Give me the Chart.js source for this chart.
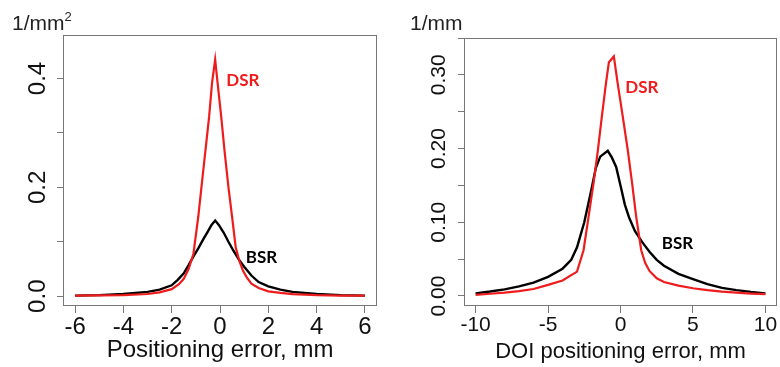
<!DOCTYPE html>
<html>
<head>
<meta charset="utf-8">
<script src="https://cdn.jsdelivr.net/npm/chart.js@4.4.1/dist/chart.umd.min.js"></script>
<style>
  html, body { margin: 0; padding: 0; background: #fff; }
  #wrap { position: relative; width: 780px; height: 367px; overflow: hidden; }
  .panel { position: absolute; top: 0; width: 390px; height: 367px; }
  .unit { position: absolute; top: 12px; font-family: "Liberation Sans", Arial, sans-serif; font-size: 21px; line-height: 21px; color: #222; }
  .unit span { font-size: 13px; position: relative; top: -9px; }
</style>
</head>
<body>
<div id="wrap">
  <div class="panel" style="left:0"><canvas id="posChart" width="390" height="367"></canvas></div>
  <div class="panel" style="left:390px"><canvas id="doiChart" width="390" height="367"></canvas></div>
  <div class="unit" style="left:12px">1/mm<span>2</span></div>
  <div class="unit" style="left:410px">1/mm</div>
</div>
<script>
// left panel: positioning error
const posDsrX = [-6, -5, -4, -3, -2.5, -2, -1.7, -1.5, -1.3, -1.1, -0.9, -0.75, -0.6, -0.45, -0.33, -0.2, -0.1, 0.05, 0.2, 0.35, 0.5, 0.65, 0.8, 0.95, 1.1, 1.3, 1.6, 2, 2.5, 3, 4, 5, 6];
const posDsrY = [0.001, 0.0015, 0.002, 0.004, 0.007, 0.013, 0.022, 0.032, 0.05, 0.078, 0.146, 0.208, 0.269, 0.33, 0.392, 0.435, 0.392, 0.33, 0.262, 0.2, 0.146, 0.09, 0.065, 0.047, 0.035, 0.023, 0.015, 0.009, 0.006, 0.004, 0.002, 0.0012, 0.001];
const posBsrX = [-6, -5, -4, -3, -2.5, -2, -1.75, -1.5, -1.3, -1.1, -0.9, -0.7, -0.5, -0.35, -0.2, -0.05, 0.15, 0.35, 0.55, 0.8, 1, 1.3, 1.6, 2, 2.5, 3, 4, 5, 6];
const posBsrY = [0.001, 0.002, 0.004, 0.008, 0.012, 0.02, 0.03, 0.042, 0.057, 0.073, 0.088, 0.104, 0.119, 0.131, 0.139, 0.131, 0.117, 0.1, 0.084, 0.066, 0.054, 0.038, 0.026, 0.018, 0.012, 0.008, 0.004, 0.002, 0.001];
const posXTicks = [-6, -4, -2, 0, 2, 4, 6];
const posYTicks = [0, 0.1, 0.2, 0.3, 0.4];
const posYLabels = ['0.0', '', '0.2', '', '0.4'];

// right panel: DOI positioning error
const doiDsrX = [-10, -9, -8, -7, -6, -5, -4, -3, -2.55, -2.2, -1.86, -1.56, -1.29, -1, -0.8, -0.46, -0.2, 0.16, 0.5, 0.8, 1.08, 1.43, 1.7, 2, 2.5, 3, 4, 5, 6, 7, 8, 9, 10];
const doiDsrY = [0.0014, 0.003, 0.0045, 0.0065, 0.0095, 0.015, 0.021, 0.033, 0.062, 0.108, 0.153, 0.198, 0.243, 0.289, 0.317, 0.325, 0.289, 0.243, 0.198, 0.153, 0.108, 0.062, 0.045, 0.034, 0.024, 0.019, 0.014, 0.0105, 0.008, 0.006, 0.0045, 0.0033, 0.0025];
const doiBsrX = [-10, -9, -8, -7, -6, -5, -4, -3.4, -3, -2.5, -2, -1.7, -1.4, -0.88, -0.6, -0.3, 0, 0.3, 0.6, 1, 1.5, 2, 2.5, 3, 4, 5, 6, 7, 8, 9, 10];
const doiBsrY = [0.0036, 0.006, 0.009, 0.013, 0.018, 0.026, 0.037, 0.049, 0.066, 0.1, 0.145, 0.174, 0.189, 0.197, 0.188, 0.175, 0.15, 0.124, 0.106, 0.088, 0.073, 0.06, 0.049, 0.041, 0.03, 0.023, 0.016, 0.011, 0.008, 0.0055, 0.0036];
const doiXTicks = [-10, -5, 0, 5, 10];
const doiYTicks = [0, 0.05, 0.1, 0.15, 0.2, 0.25, 0.3, 0.35];
const doiYLabels = ['0.00', '', '0.10', '', '0.20', '', '0.30', ''];

const RED = '#ee1c1c';
const AXIS = '#777';
const TICK_FONT = '"Liberation Sans", Arial, sans-serif';

const toPoints = (xs, ys) => xs.map((x, i) => ({ x, y: ys[i] }));

const framePlugin = {
  id: 'frame',
  beforeDatasetsDraw(chart) {
    const { ctx, chartArea: a } = chart;
    ctx.save();
    ctx.strokeStyle = AXIS;
    ctx.lineWidth = 1;
    ctx.strokeRect(a.left + 0.5, a.top + 0.5, a.right - a.left - 1, a.bottom - a.top - 1);
    ctx.restore();
  }
};

const curveLabels = {
  id: 'curveLabels',
  afterDatasetsDraw(chart, args, opts) {
    const { ctx, scales: { x, y } } = chart;
    ctx.save();
    ctx.font = 'bold 17px Lato, "Open Sans", sans-serif';
    ctx.textAlign = 'center';
    ctx.textBaseline = 'middle';
    opts.items.forEach(it => {
      ctx.fillStyle = it.color;
      ctx.fillText(it.text, x.getPixelForValue(it.x), y.getPixelForValue(it.y));
    });
    ctx.restore();
  }
};

function makeChart(id, p) {
  return new Chart(document.getElementById(id), {
    type: 'line',
    data: {
      datasets: [
        { data: p.dsr, borderColor: RED, borderWidth: 2.2 },
        { data: p.bsr, borderColor: '#000', borderWidth: 2.4 }
      ]
    },
    options: {
      responsive: false,
      animation: false,
      events: [],
      elements: { point: { radius: 0 }, line: { tension: 0 } },
      layout: { padding: p.padding },
      plugins: {
        legend: { display: false },
        tooltip: { enabled: false },
        curveLabels: { items: p.labels }
      },
      scales: {
        x: {
          type: 'linear',
          min: p.xMin, max: p.xMax,
          afterBuildTicks: s => { s.ticks = p.xTicks.map(v => ({ value: v })); },
          afterFit: s => { s.height = 61; s.paddingLeft = 0; s.paddingRight = 0; },
          border: { display: false },
          grid: { drawOnChartArea: false, tickLength: 7, color: AXIS },
          ticks: { color: '#111', font: { family: TICK_FONT, size: p.tickSize }, padding: 0, maxRotation: 0, autoSkip: false },
          title: { display: true, text: p.xTitle, color: '#111', font: { family: TICK_FONT, size: p.titleSize }, padding: { top: 0, bottom: 2 } }
        },
        y: {
          min: p.yMin, max: p.yMax,
          afterBuildTicks: s => { s.ticks = p.yTicks.map(v => ({ value: v })); },
          afterFit: s => { s.width = p.yWidth; },
          border: { display: false },
          grid: { drawOnChartArea: false, tickLength: 6, color: AXIS },
          ticks: {
            color: '#111', font: { family: TICK_FONT, size: p.tickSize },
            minRotation: 90, maxRotation: 90, crossAlign: 'center', padding: p.yPad, autoSkip: false,
            callback: (v, i) => p.yLabels[i]
          }
        }
      }
    },
    plugins: [framePlugin, curveLabels]
  });
}

makeChart('posChart', {
  dsr: toPoints(posDsrX, posDsrY), bsr: toPoints(posBsrX, posBsrY),
  padding: { left: 0, right: 13, top: 35, bottom: 0 },
  xMin: -6.5, xMax: 6.5, yMin: -0.018, yMax: 0.48,
  xTicks: posXTicks, yTicks: posYTicks, yLabels: posYLabels,
  yWidth: 63, yPad: 2, tickSize: 24, titleSize: 24,
  xTitle: 'Positioning error, mm',
  labels: [
    { text: 'DSR', x: 0.95, y: 0.397, color: RED },
    { text: 'BSR', x: 1.72, y: 0.071, color: '#000' }
  ]
});

makeChart('doiChart', {
  dsr: toPoints(doiDsrX, doiDsrY), bsr: toPoints(doiBsrX, doiBsrY),
  padding: { left: 0, right: 3, top: 38, bottom: 0 },
  xMin: -10.8, xMax: 10.8, yMin: -0.0136, yMax: 0.35,
  xTicks: doiXTicks, yTicks: doiYTicks, yLabels: doiYLabels,
  yWidth: 74, yPad: -2, tickSize: 21, titleSize: 22,
  xTitle: 'DOI positioning error, mm',
  labels: [
    { text: 'DSR', x: 1.48, y: 0.283, color: RED },
    { text: 'BSR', x: 3.93, y: 0.071, color: '#000' }
  ]
});
</script>
</body>
</html>
